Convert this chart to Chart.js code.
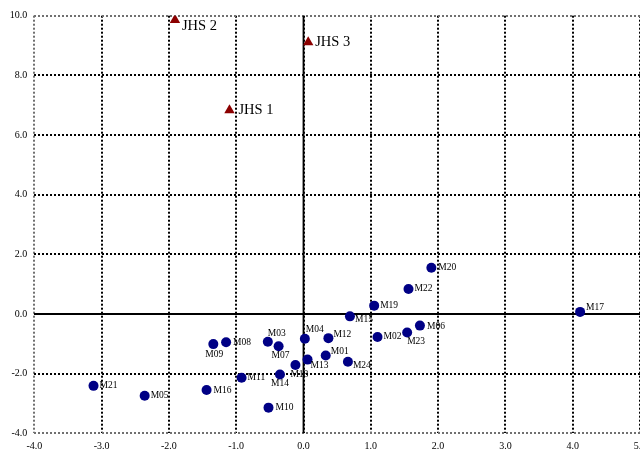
<!DOCTYPE html>
<html>
<head>
<meta charset="utf-8">
<script src="https://cdn.jsdelivr.net/npm/chart.js@4.4.1/dist/chart.umd.min.js"></script>
<style>
  html, body { margin: 0; padding: 0; background: #fff; overflow: hidden; }
  #wrap { width: 660px; height: 450px; }
</style>
</head>
<body>
<div id="wrap"><canvas id="chart" width="660" height="450"></canvas></div>
<script>
// triangles (JHS)
const jhsNames = ['JHS 1', 'JHS 2', 'JHS 3'];
const jhsX = [-1.10, -1.91, 0.07];
const jhsY = [6.83, 9.86, 9.11];

// circles (M01..M24)
const mNames = ['M01','M02','M03','M04','M05','M06','M07','M08','M09','M10','M11','M12',
                'M13','M14','M15','M16','M17','M18','M19','M20','M21','M22','M23','M24'];
const mX = [0.33, 1.10, -0.53, 0.02, -2.36, 1.73, -0.37, -1.15, -1.34, -0.52, -0.92, 0.37,
            0.06, -0.35, 0.69, -1.44, 4.11, -0.12, 1.05, 1.90, -3.12, 1.56, 1.54, 0.66];
const mY = [-1.39, -0.77, -0.93, -0.83, -2.74, -0.39, -1.08, -0.95, -1.01, -3.14, -2.14, -0.81,
            -1.53, -2.03, -0.08, -2.55, 0.07, -1.71, 0.28, 1.55, -2.41, 0.84, -0.62, -1.60];

// axis ticks
const xTicks = [-4, -3, -2, -1, 0, 1, 2, 3, 4, 5];
const yTicks = [-4, -2, 0, 2, 4, 6, 8, 10];

// where each label sits relative to its marker (text left, vertical middle)
const labelNudge = {
  'M01': [5, -4], 'M12': [5, -4], 'M17': [6, -4],
  'M15': [5, 3], 'M13': [3, 6], 'M24': [5, 4],
  'M03': [0, -8], 'M04': [1, -9],
  'M09': [-8, 10], 'M07': [-7, 9], 'M14': [-9, 9], 'M18': [-5, 10],
  'M23': [0, 9],
  'M06': [7, 1], 'M08': [7, 0], 'M16': [7, 0], 'M10': [7, 0], 'M20': [7, 0],
  'JHS 2': [7, 6], 'JHS 1': [9, 0], 'JHS 3': [7, 0]
};

const serif = "'Liberation Serif', 'Times New Roman', serif";

// zero lines + point labels
const extras = {
  id: 'extras',
  beforeDatasetsDraw(chart) {
    const {ctx, chartArea, scales} = chart;
    const x0 = scales.x.getPixelForValue(0);
    const y0 = scales.y.getPixelForValue(0);
    ctx.save();
    ctx.strokeStyle = '#000';
    ctx.lineWidth = 1.8;
    ctx.beginPath();
    ctx.moveTo(x0, chartArea.top);
    ctx.lineTo(x0, chartArea.bottom);
    ctx.moveTo(chartArea.left, y0);
    ctx.lineTo(chartArea.right, y0);
    ctx.stroke();
    ctx.restore();
  },
  afterDatasetsDraw(chart) {
    const {ctx} = chart;
    ctx.save();
    ctx.fillStyle = '#000';
    ctx.textAlign = 'left';
    ctx.textBaseline = 'middle';
    chart.data.datasets.forEach((ds, di) => {
      const meta = chart.getDatasetMeta(di);
      ctx.font = (di === 0 ? '14.5px ' : '9.5px ') + serif;
      meta.data.forEach((pt, i) => {
        const name = ds.names[i];
        const n = labelNudge[name] || [6, 0];
        ctx.fillText(name, pt.x + n[0], pt.y + n[1]);
      });
    });
    ctx.restore();
  }
};

// outer frame lines are grey, inner grid black
const gridColor = (ctx) => {
  const v = ctx.tick ? ctx.tick.value : null;
  if (v === -4 || v === 10) return '#707070';
  return '#000';
};

new Chart(document.getElementById('chart'), {
  type: 'scatter',
  data: {
    datasets: [
      {
        names: jhsNames,
        data: jhsX.map((x, i) => ({x: x, y: jhsY[i]})),
        pointStyle: 'triangle',
        pointRadius: 6,
        backgroundColor: '#8b0000',
        borderColor: '#8b0000',
        borderWidth: 0
      },
      {
        names: mNames,
        data: mX.map((x, i) => ({x: x, y: mY[i]})),
        pointStyle: 'circle',
        pointRadius: 5,
        backgroundColor: '#000085',
        borderColor: '#000085',
        borderWidth: 0
      }
    ]
  },
  options: {
    responsive: false,
    animation: false,
    events: [],
    layout: { padding: { top: 15.7, right: 20, bottom: 0, left: 0 } },
    plugins: { legend: { display: false }, tooltip: { enabled: false } },
    scales: {
      x: {
        type: 'linear',
        min: -4, max: 5,
        afterBuildTicks: (s) => { s.ticks = xTicks.map(v => ({value: v})); },
        afterFit: (s) => { s.height = 16.7; },
        grid: { color: gridColor, lineWidth: 2, drawTicks: false },
        border: { display: false, dash: [2, 2] },
        ticks: {
          padding: 7,
          color: '#000',
          font: { family: serif, size: 10 },
          callback: (v) => Number(v).toFixed(1)
        }
      },
      y: {
        type: 'linear',
        min: -4, max: 10,
        afterBuildTicks: (s) => { s.ticks = yTicks.map(v => ({value: v})); },
        afterFit: (s) => { s.width = 34.3; },
        grid: { color: gridColor, lineWidth: 2, drawTicks: false },
        border: { display: false, dash: [2, 2] },
        ticks: {
          padding: 7,
          color: '#000',
          font: { family: serif, size: 10 },
          callback: (v) => Number(v).toFixed(1)
        }
      }
    }
  },
  plugins: [extras]
});
</script>
</body>
</html>
